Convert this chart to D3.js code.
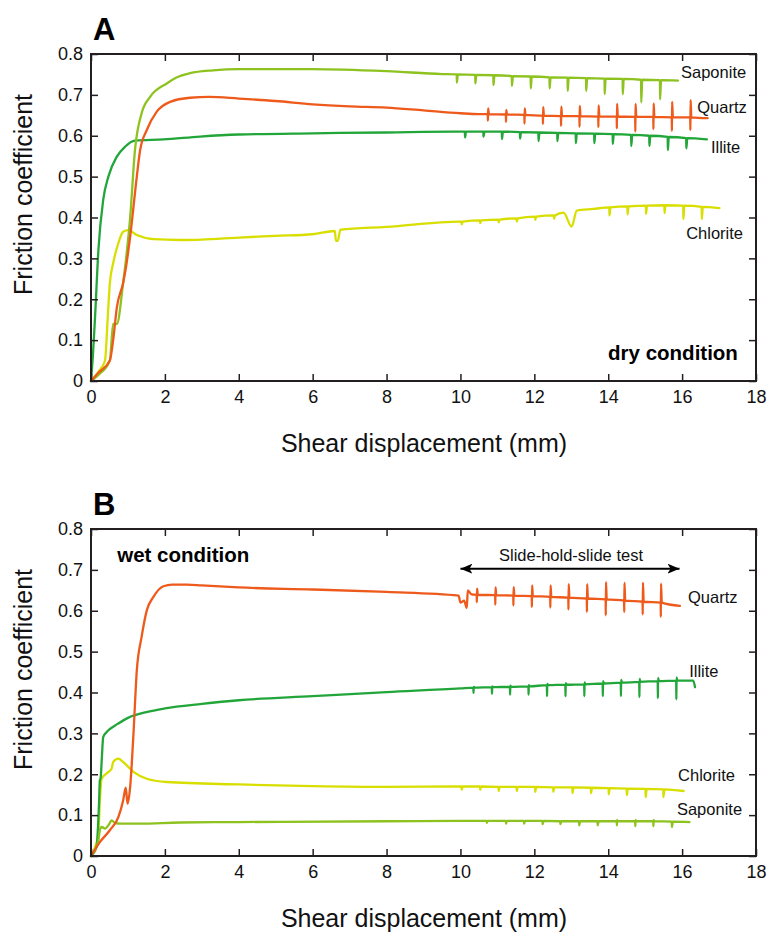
<!DOCTYPE html>
<html lang="en">
<head>
<meta charset="utf-8">
<script src="https://cdn.jsdelivr.net/npm/d3@7"></script>
<style>
  body { margin: 0; background: #fff; }
</style>
</head>
<body>
<script>
    var W = 767, H = 937;
    var FONT = '"Liberation Sans", Arial, Helvetica, sans-serif';
    var INK = '#231f20';

    var xTickValues = [0, 2, 4, 6, 8, 10, 12, 14, 16, 18];
    var yTickValues = [0, 0.1, 0.2, 0.3, 0.4, 0.5, 0.6, 0.7, 0.8];

    var colors = {Quartz: '#ee5a1b', Saponite: '#8dc21f', Illite: '#22a63a', Chlorite: '#d8df00'};

    // ---- dry condition: base curves [x mm, friction] ----
    var dryQuartz = [[0,0],[0.2,0.02],[0.51,0.05],[0.6,0.1],[0.7,0.18],[0.87,0.24],[0.95,0.28],[1.06,0.353],
        [1.24,0.5],[1.33,0.565],[1.51,0.614],[1.78,0.659],[2.14,0.683],[2.68,0.693],[3.2,0.695],[4,0.691],
        [5,0.685],[6,0.677],[7,0.672],[8,0.669],[9,0.662],[10,0.655],[10.5,0.653],[16.69,0.643]];
    var drySaponite = [[0,0],[0.2,0.015],[0.51,0.05],[0.6,0.14],[0.7,0.14],[0.87,0.24],[0.95,0.3],[1.06,0.4],
        [1.19,0.565],[1.37,0.655],[1.6,0.695],[2.05,0.728],[2.3,0.742],[2.68,0.753],[3.3,0.76],[4,0.763],
        [6,0.763],[8,0.758],[9.5,0.751],[15.89,0.735]];
    var dryIllite = [[0,0],[0.05,0.06],[0.11,0.157],[0.2,0.32],[0.33,0.443],[0.47,0.5],[0.7,0.549],[0.92,0.573],
        [1.19,0.588],[1.96,0.591],[2.95,0.598],[4,0.603],[6,0.606],[8,0.608],[9.8,0.61],[16.67,0.591]];
    var dryChlorite = [[0,0],[0.24,0.027],[0.38,0.05],[0.45,0.15],[0.51,0.239],[0.6,0.288],[0.74,0.337],
        [0.87,0.365],[1.01,0.369],[1.24,0.357],[1.69,0.347],[2.41,0.345],[3,0.346],[4,0.351],[5,0.355],
        [6,0.359],[6.6,0.367],[6.63,0.343],[6.68,0.343],[6.75,0.37],[8,0.377],[10,0.39],[12.79,0.412],
        [13.01,0.378],[13.15,0.417],[13.6,0.421],[17.01,0.423]];

    // slide-hold-slide events: [x, level, low, high]
    var dryQuartzHolds = [[10.74,0.653,0.637,0.667],[11.23,0.652,0.634,0.663],[11.73,0.651,0.63,0.667],
        [12.23,0.649,0.629,0.67],[12.72,0.648,0.624,0.671],[13.22,0.648,0.622,0.673],[13.73,0.647,0.621,0.674],
        [14.23,0.647,0.618,0.678],[14.73,0.646,0.61,0.678],[15.22,0.646,0.616,0.679],[15.72,0.645,0.612,0.683],
        [16.22,0.645,0.614,0.687]];
    var drySaponiteHolds = [[9.9,0.75,0.73],[10.4,0.749,0.728],[10.89,0.748,0.724],[11.39,0.746,0.722],
        [11.9,0.745,0.716],[12.41,0.743,0.716],[12.9,0.742,0.71],[13.4,0.741,0.71],[13.9,0.74,0.702],
        [14.39,0.739,0.702],[14.89,0.737,0.682],[15.4,0.736,0.689]];
    var dryIlliteHolds = [[10.12,0.61,0.596],[10.62,0.61,0.598],[11.12,0.61,0.592],[11.61,0.609,0.593],
        [12.11,0.608,0.587],[12.62,0.607,0.587],[13.12,0.606,0.582],[13.62,0.605,0.582],[14.12,0.604,0.58],
        [14.62,0.602,0.575],[15.11,0.6,0.575],[15.61,0.597,0.565],[16.11,0.594,0.569]];
    var dryChloriteHolds = [[10.03,0.39,0.383],[10.53,0.393,0.386],[11.03,0.395,0.388],[11.52,0.398,0.39],
        [12.02,0.402,0.394],[12.53,0.405,0.397],[14.03,0.425,0.405],[14.52,0.427,0.408],[15.02,0.429,0.409],
        [15.52,0.43,0.411],[16.03,0.429,0.396],[16.53,0.426,0.396]];

    // ---- wet condition ----
    var wetQuartz = [[0,0],[0.24,0.034],[0.51,0.063],[0.74,0.095],[0.87,0.136],[0.94,0.167],[0.99,0.128],
        [1.06,0.169],[1.15,0.3],[1.24,0.454],[1.37,0.536],[1.51,0.601],[1.69,0.634],[1.96,0.66],[2.2,0.664],
        [2.59,0.664],[3,0.662],[4,0.657],[6,0.652],[8,0.646],[9.95,0.637],[10,0.62],[10.1,0.625],[10.17,0.607],
        [10.2,0.65],[10.3,0.64],[15.94,0.612]];
    var wetSaponite = [[0,0],[0.2,0.038],[0.24,0.063],[0.29,0.071],[0.38,0.067],[0.47,0.075],[0.56,0.087],
        [0.65,0.081],[0.79,0.079],[1.33,0.079],[2.41,0.082],[4,0.083],[8,0.085],[10,0.086],[16.2,0.083]];
    var wetIllite = [[0,0],[0.15,0.022],[0.22,0.136],[0.24,0.185],[0.26,0.19],[0.29,0.234],[0.33,0.291],
        [0.42,0.303],[0.5,0.31],[0.7,0.322],[1,0.338],[1.5,0.352],[2,0.361],[3,0.372],[4,0.381],[6,0.391],
        [8,0.401],[10,0.41],[16.3,0.429],[16.35,0.413]];
    var wetChlorite = [[0,0],[0.11,0.022],[0.2,0.055],[0.24,0.136],[0.29,0.189],[0.42,0.202],[0.56,0.214],
        [0.6,0.23],[0.74,0.238],[0.87,0.23],[1.15,0.206],[1.51,0.189],[2.05,0.181],[4,0.175],[6,0.171],
        [8,0.169],[9.9,0.17],[16.04,0.159]];

    var wetQuartzHolds = [[10.44,0.639,0.621,0.654],[10.94,0.638,0.615,0.657],[11.43,0.637,0.613,0.658],
        [11.93,0.636,0.609,0.662],[12.43,0.634,0.608,0.662],[12.92,0.632,0.603,0.665],[13.42,0.63,0.597,0.665],
        [13.93,0.628,0.589,0.67],[14.43,0.625,0.597,0.668],[14.93,0.622,0.591,0.669],[15.42,0.62,0.585,0.666]];
    var wetSaponiteHolds = [[10.71,0.086,0.081],[11.23,0.086,0.079],[11.72,0.086,0.079],[12.22,0.086,0.078],
        [12.7,0.085,0.078],[13.21,0.085,0.075],[13.71,0.085,0.075],[14.23,0.085,0.075,0.088],
        [14.73,0.085,0.073,0.088],[15.22,0.085,0.073,0.088],[15.72,0.084,0.071]];
    var wetIlliteHolds = [[10.35,0.412,0.399,0.414],[10.85,0.413,0.397,0.415],[11.34,0.414,0.395,0.417],
        [11.84,0.415,0.395,0.418],[12.34,0.418,0.391,0.421],[12.84,0.419,0.391,0.423],[13.35,0.42,0.391,0.425],
        [13.85,0.422,0.391,0.428],[14.34,0.424,0.391,0.431],[14.84,0.426,0.389,0.433],[15.34,0.428,0.386,0.436],
        [15.84,0.429,0.383,0.437]];
    var wetChloriteHolds = [[10.03,0.17,0.162],[10.53,0.17,0.162],[11.03,0.169,0.159],[11.52,0.169,0.159],
        [12.02,0.169,0.157],[12.51,0.168,0.157],[13.03,0.168,0.154],[13.53,0.167,0.154],[14.01,0.166,0.151],
        [14.5,0.165,0.149],[15.01,0.164,0.144],[15.49,0.163,0.144]];

    // merge a base curve with its hold events into one trace
    function buildTrace(base, holds) {
        var pts = base.map(function(d) { return [d[0], d[1]]; });
        holds.forEach(function(h) {
            pts.push([h[0], h[1]], [h[0] + 0.004, h[2]]);
            if (h[3] !== undefined) pts.push([h[0] + 0.01, h[3]]);
            pts.push([h[0] + 0.03, h[1]]);
        });
        return pts.sort(function(a, b) { return a[0] - b[0]; });
    }

    var svg = d3.select('body').append('svg')
        .attr('width', W).attr('height', H)
        .style('font-family', FONT);
    svg.append('rect').attr('width', W).attr('height', H).attr('fill', '#fff');

    svg.append('defs').append('marker')
        .attr('id', 'arrow')
        .attr('markerUnits', 'userSpaceOnUse')
        .attr('markerWidth', 12).attr('markerHeight', 10)
        .attr('refX', 12).attr('refY', 5)
        .attr('orient', 'auto-start-reverse')
        .append('path').attr('d', 'M0,0 L12,5 L0,10 L3,5 z').attr('fill', '#000');

    function drawPanel(p) {
        var x = d3.scaleLinear().domain([0, 18]).range([91, 756]);
        var y = d3.scaleLinear().domain([0, 0.8]).range([p.bottom, p.top]);
        var g = svg.append('g');

        var line = d3.line()
            .x(function(d) { return x(d[0]); })
            .y(function(d) { return y(d[1]); })
            .curve(d3.curveMonotoneX);

        // curves (drawn in reverse so quartz sits on top)
        p.series.slice().reverse().forEach(function(s) {
            g.append('path')
                .attr('d', line(buildTrace(s.base, s.holds)))
                .attr('fill', 'none')
                .attr('stroke', colors[s.name])
                .attr('stroke-width', 2.3)
                .attr('stroke-linejoin', 'round')
                .attr('stroke-linecap', 'round');
        });

        // axes with inward ticks on all four sides
        var fmt = function(d) { return d === 0 ? '0' : d3.format('.1f')(d); };
        var axes = [
            [d3.axisBottom(x).tickValues(xTickValues).tickSize(-7).tickPadding(9), 'translate(0,' + p.bottom + ')'],
            [d3.axisTop(x).tickValues(xTickValues).tickSize(-7).tickFormat(''), 'translate(0,' + p.top + ')'],
            [d3.axisLeft(y).tickValues(yTickValues).tickSize(-7).tickPadding(8).tickFormat(fmt), 'translate(91,0)'],
            [d3.axisRight(y).tickValues(yTickValues).tickSize(-7).tickFormat(''), 'translate(756,0)']
        ];
        axes.forEach(function(a) {
            var ag = g.append('g').attr('transform', a[1]).call(a[0]);
            ag.select('.domain').remove();
            ag.selectAll('line').attr('stroke', INK).attr('stroke-width', 1.5);
            ag.selectAll('text').attr('fill', '#111').style('font-size', '18px').style('font-family', FONT);
        });

        g.append('rect')
            .attr('x', 91).attr('y', p.top)
            .attr('width', 756 - 91).attr('height', p.bottom - p.top)
            .attr('fill', 'none').attr('stroke', INK).attr('stroke-width', 2);

        // mineral labels
        p.labels.forEach(function(l) {
            g.append('text')
                .attr('x', x(l[1])).attr('y', y(l[2]))
                .attr('fill', '#111')
                .style('font-size', '16.5px')
                .text(l[0]);
        });

        // condition label
        g.append('text')
            .attr('x', x(p.cond[1])).attr('y', y(p.cond[2]))
            .attr('text-anchor', p.cond[3])
            .style('font-size', '20.5px').style('font-weight', 'bold')
            .attr('fill', '#000')
            .text(p.cond[0]);

        // panel letter
        g.append('text')
            .attr('x', 93).attr('y', p.top - 14)
            .style('font-size', '31px').style('font-weight', 'bold')
            .text(p.letter);

        // axis titles
        g.append('text')
            .attr('transform', 'translate(31.5,' + (p.top + 140.5) + ') rotate(-90)')
            .attr('text-anchor', 'middle')
            .style('font-size', '25px')
            .attr('fill', '#111')
            .text('Friction coefficient');
        g.append('text')
            .attr('x', 424).attr('y', p.bottom + 71)
            .attr('text-anchor', 'middle')
            .style('font-size', '25px')
            .attr('fill', '#111')
            .text('Shear displacement (mm)');

        if (p.arrow) {
            g.append('line')
                .attr('x1', x(p.arrow.from)).attr('x2', x(p.arrow.to))
                .attr('y1', y(p.arrow.level)).attr('y2', y(p.arrow.level))
                .attr('stroke', '#000').attr('stroke-width', 2)
                .attr('marker-start', 'url(#arrow)').attr('marker-end', 'url(#arrow)');
            g.append('text')
                .attr('x', x((p.arrow.from + p.arrow.to) / 2) + 1).attr('y', y(p.arrow.level) - 8)
                .attr('text-anchor', 'middle')
                .style('font-size', '16.5px')
                .attr('fill', '#111')
                .text(p.arrow.text);
        }
    }

    drawPanel({
        letter: 'A', top: 54, bottom: 381,
        series: [
            {name: 'Quartz', base: dryQuartz, holds: dryQuartzHolds},
            {name: 'Saponite', base: drySaponite, holds: drySaponiteHolds},
            {name: 'Illite', base: dryIllite, holds: dryIlliteHolds},
            {name: 'Chlorite', base: dryChlorite, holds: dryChloriteHolds}
        ],
        labels: [['Saponite', 15.97, 0.741], ['Quartz', 16.41, 0.656], ['Illite', 16.78, 0.558], ['Chlorite', 16.11, 0.347]],
        cond: ['dry condition', 17.51, 0.051, 'end']
    });

    drawPanel({
        letter: 'B', top: 529, bottom: 856,
        series: [
            {name: 'Quartz', base: wetQuartz, holds: wetQuartzHolds},
            {name: 'Saponite', base: wetSaponite, holds: wetSaponiteHolds},
            {name: 'Illite', base: wetIllite, holds: wetIlliteHolds},
            {name: 'Chlorite', base: wetChlorite, holds: wetChloriteHolds}
        ],
        labels: [['Quartz', 16.16, 0.618], ['Illite', 16.19, 0.437], ['Chlorite', 15.89, 0.183], ['Saponite', 15.86, 0.1]],
        cond: ['wet condition', 0.71, 0.719, 'start'],
        arrow: {from: 10, to: 15.93, level: 0.703, text: 'Slide-hold-slide test'}
    });
</script>
</body>
</html>
